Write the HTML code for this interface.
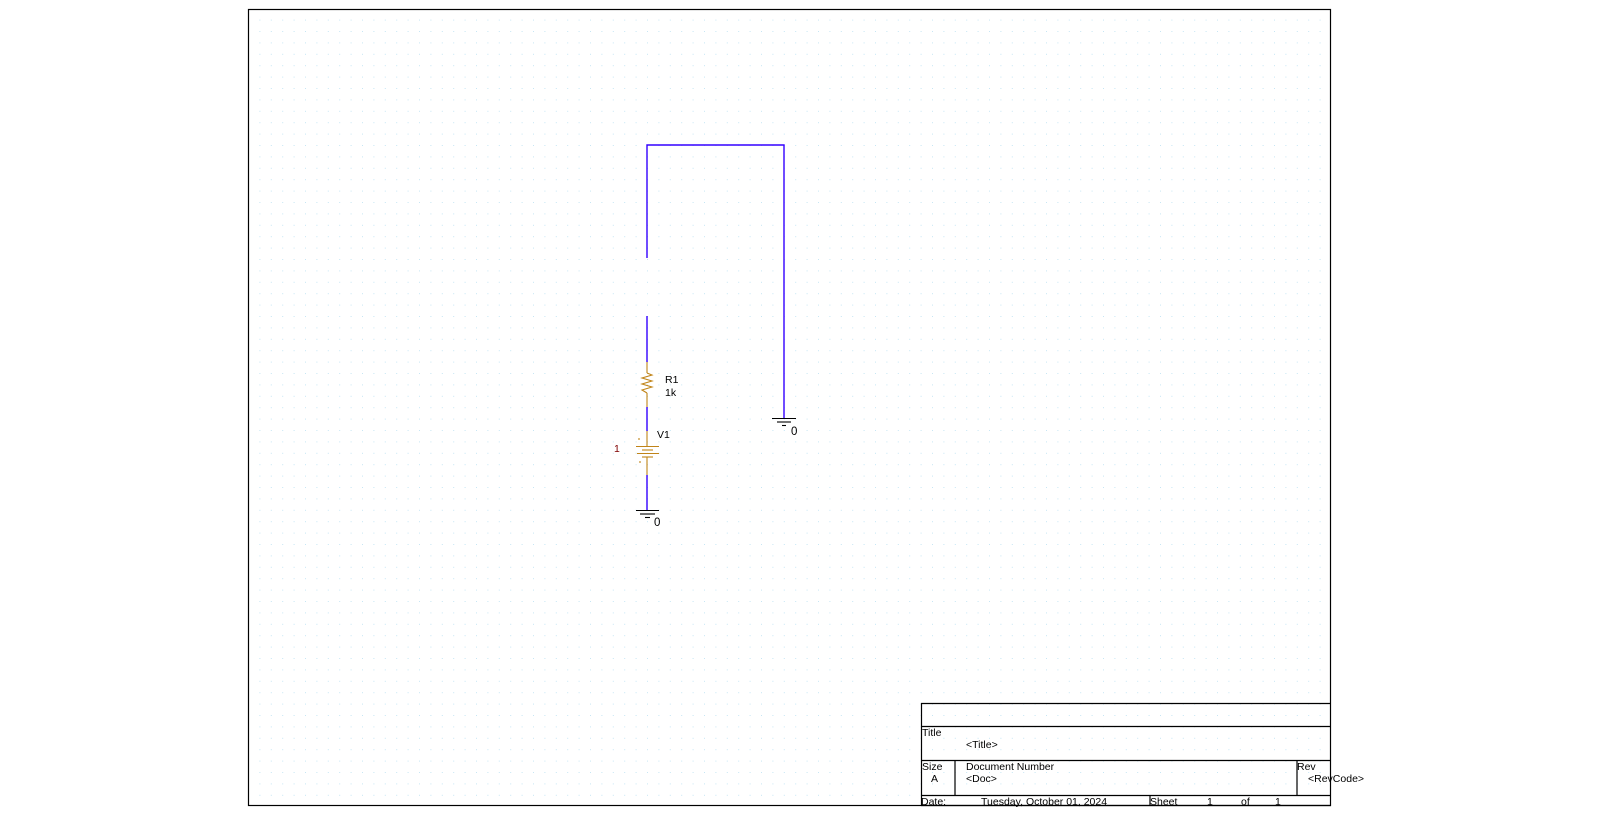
<!DOCTYPE html>
<html><head><meta charset="utf-8"><style>
html,body{margin:0;padding:0;background:#fff;width:1603px;height:838px;overflow:hidden}
svg{display:block;font-family:"Liberation Sans",sans-serif}
</style></head><body>
<svg width="1603" height="838" viewBox="0 0 1603 838">
<defs>
<pattern id="grid" x="8.6" y="8.2" width="11.4" height="11.4" patternUnits="userSpaceOnUse">
<rect x="0" y="0" width="1" height="1" fill="#c6e6f4"/>
</pattern>
</defs>
<rect x="248" y="9" width="1083" height="797" fill="url(#grid)"/>
<rect x="248.5" y="9.5" width="1082" height="796" fill="none" stroke="#000" stroke-width="1.2"/>

<g stroke="#3300ff" stroke-width="1.4" fill="none">
<polyline points="647,258 647,145 784,145 784,418"/>
<line x1="647" y1="316" x2="647" y2="362"/>
<line x1="647" y1="407" x2="647" y2="431"/>
<line x1="647" y1="475" x2="647" y2="510"/>
</g>

<g stroke="#c08418" stroke-width="1.1" fill="none">
<line x1="647" y1="362" x2="647" y2="373"/>
<polyline points="647,373 652,375 642,378 652,381 642,384 652,387 642,390 647,393"/>
<line x1="647" y1="393" x2="647" y2="407"/>
</g>
<text x="665" y="383" font-size="10.5" fill="#000">R1</text>
<text x="665" y="396" font-size="10.5" fill="#000">1k</text>

<g stroke="#c08418" stroke-width="1.1" fill="none">
<line x1="647" y1="431" x2="647" y2="446"/>
<line x1="636" y1="446.5" x2="659" y2="446.5"/>
<line x1="642" y1="450" x2="653" y2="450"/>
<line x1="637" y1="453.5" x2="659" y2="453.5"/>
<line x1="642" y1="457" x2="653" y2="457"/>
<line x1="647" y1="457" x2="647" y2="475"/>
<line x1="638" y1="439" x2="640" y2="439"/>
<line x1="639" y1="462" x2="641" y2="462"/>
</g>
<text x="657" y="438" font-size="10.5" fill="#000">V1</text>
<text x="614" y="452" font-size="10.5" fill="#800000">1</text>

<g stroke="#000" stroke-width="1.1">
<line x1="636" y1="510.5" x2="659" y2="510.5"/>
<line x1="640" y1="514" x2="655" y2="514"/>
<line x1="645" y1="517.5" x2="650" y2="517.5"/>
</g>
<text x="654" y="526" font-size="11.5" fill="#000">0</text>

<g stroke="#000" stroke-width="1.1">
<line x1="772" y1="418.5" x2="796" y2="418.5"/>
<line x1="777" y1="422" x2="791" y2="422"/>
<line x1="782" y1="425.5" x2="786" y2="425.5"/>
</g>
<text x="791" y="435" font-size="11.5" fill="#000">0</text>

<g stroke="#000" stroke-width="1.2" fill="none">
<line x1="921" y1="703.5" x2="1331" y2="703.5"/>
<line x1="921" y1="726.5" x2="1331" y2="726.5"/>
<line x1="921" y1="760.5" x2="1331" y2="760.5"/>
<line x1="921" y1="795.5" x2="1331" y2="795.5"/>
<line x1="921" y1="805.5" x2="1331" y2="805.5"/>
<line x1="921.5" y1="703" x2="921.5" y2="806"/>
<line x1="955" y1="760" x2="955" y2="795"/>
<line x1="1297" y1="760" x2="1297" y2="795"/>
<line x1="1150" y1="795" x2="1150" y2="806"/>
</g>
<g font-size="10.5" fill="#000">
<text x="922" y="736">Title</text>
<text x="966" y="748">&lt;Title&gt;</text>
<text x="922" y="770">Size</text>
<text x="931" y="782">A</text>
<text x="966" y="770">Document Number</text>
<text x="966" y="782">&lt;Doc&gt;</text>
<text x="1297" y="770">Rev</text>
<text x="1308" y="782">&lt;RevCode&gt;</text>
<text x="921" y="805">Date:</text>
<text x="981" y="805">Tuesday, October 01, 2024</text>
<text x="1150" y="805">Sheet</text>
<text x="1207" y="805">1</text>
<text x="1241" y="805">of</text>
<text x="1275" y="805">1</text>
</g>
</svg>
</body></html>
